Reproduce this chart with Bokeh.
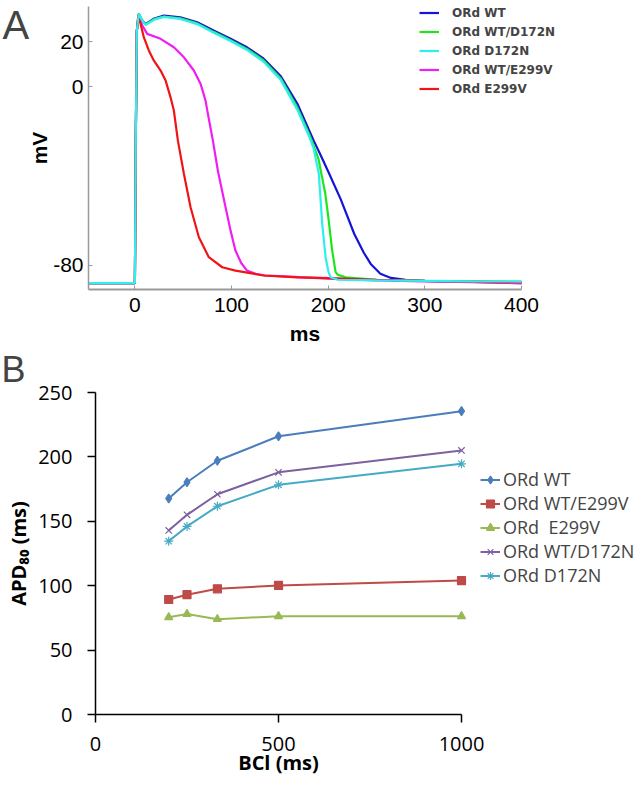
from bokeh.plotting import figure
from bokeh.models import Legend, LegendItem, Label, FixedTicker
from bokeh.layouts import column
from bokeh.embed import file_html
from bokeh.resources import INLINE

# ---------------- Panel A: action potentials (ms, mV) ----------------
wt_t = [-48, 0, 1, 2, 4, 7, 11, 20, 30, 47, 64.5, 82, 99, 116, 133, 151, 168, 185, 192, 200, 213, 227, 237, 244, 254, 265, 280, 300, 350, 400]
wt_v = [-88, -88, -20, 25, 32.6, 30, 28, 30.5, 31.8, 31, 28.8, 25, 21.4, 17.6, 12.6, 4.6, -7.6, -24.2, -30.5, -38, -50.5, -66, -74.5, -79.4, -83.8, -85.7, -86.5, -87, -87.5, -88]

wtd_t = [-48, 0, 1, 2, 4, 7, 11, 20, 30, 47, 64.5, 82, 99, 116, 133, 151, 168, 180, 185, 190, 197, 200, 204, 207.6, 210, 218, 250, 300, 350, 400]
wtd_v = [-88, -88, -20, 25, 32.6, 30, 27.8, 30.2, 31.4, 30.6, 28.3, 24.4, 20.8, 16.9, 11.8, 3.6, -9.3, -21, -26.5, -32.5, -48, -58, -73, -83, -84.3, -85.4, -86.5, -87, -87.2, -87.3]

d_t = [-48, 0, 1, 2, 4, 7, 11, 20, 30, 47, 64.5, 82, 99, 116, 133, 151, 168, 180, 185, 190.3, 193.8, 197.3, 200, 202.4, 210, 250, 300, 350, 400]
d_v = [-88, -88, -20, 25, 32.6, 30, 27.6, 30, 31.2, 30.3, 28, 24, 20.4, 16.4, 11.2, 2.9, -10.3, -22, -27.8, -39, -61.5, -76.4, -82.5, -85.4, -86.5, -86.8, -87, -87.2, -87.3]

wte_t = [-48, 0, 1, 2, 4, 7.7, 12.8, 26.6, 40.3, 50.7, 61, 68, 73.1, 74.9, 80.7, 86, 93.8, 99, 104, 110, 116, 125, 135, 155, 200, 250, 300, 350, 400]
wte_v = [-88, -88, -20, 25, 32, 27.3, 23.6, 21.4, 17.6, 13.1, 7.2, 1.2, -6.3, -10.7, -24.2, -38, -54, -64.5, -73.4, -79, -82.4, -83.8, -84.6, -85, -86, -86.8, -87.2, -87.6, -88]

e_t = [-48, 0, 1, 2, 3.5, 5.9, 9.3, 14.5, 19.7, 26.6, 31.8, 36.9, 40.3, 44.5, 50.7, 57.6, 66.2, 76.5, 90.4, 104, 133, 168, 202, 250, 300, 350, 400]
e_v = [-88, -88, -20, 25, 32, 28, 22, 16.1, 11.6, 7.2, 2.7, -4.8, -10.7, -24.2, -39, -54, -67.5, -76.4, -80.9, -82.4, -84.6, -85.4, -85.8, -86.5, -87, -87.3, -87.6]

a_x_ticks = [0, 100, 200, 300, 400]
a_y_ticks = [20, 0, -80]
a_x_bounds = (-48, 400)
a_y_bounds = (-91, 36)

# ---------------- Panel B: APD80 vs BCl ----------------
bcl = [200, 250, 333, 500, 1000]
apd_wt = [167.7, 180.3, 197, 216, 235.5]
apd_wte = [89.3, 93, 97.6, 100.2, 104]
apd_e = [75.5, 78, 74, 76.3, 76.3]
apd_wtd = [142.9, 155, 171, 188, 205]
apd_d = [134.6, 146, 161.7, 178.3, 194.6]
b_x_ticks = [0, 500, 1000]
b_y_ticks = [0, 50, 100, 150, 200, 250]
b_x_bounds = (0, 1000)
b_y_bounds = (0, 250)

# ---------------- layout geometry (page pixels) ----------------
W = 638
HA = 348
HB = 437
sxA = 433 / (a_x_bounds[1] - a_x_bounds[0])
syA = 2.233
xrA = (a_x_bounds[0] - 88 / sxA, a_x_bounds[0] + (W - 88) / sxA)
yrA = (a_y_bounds[0] - (HA - 289.3) / syA, a_y_bounds[0] + 289.3 / syA)
sxB = 366 / (b_x_bounds[1] - b_x_bounds[0])
syB = 322 / (b_y_bounds[1] - b_y_bounds[0])
xrB = (b_x_bounds[0] - 95 / sxB, b_x_bounds[0] + (W - 95) / sxB)
yrB = (b_y_bounds[0] - (HA + HB - 714) / syB, b_y_bounds[1] + (392 - HA) / syB)

# ================= Figure A =================
pA = figure(width=W, height=HA, x_range=xrA, y_range=yrA,
            output_backend="svg", toolbar_location=None,
            min_border_left=0, min_border_right=0, min_border_top=0, min_border_bottom=0)
pA.outline_line_color = None
pA.grid.visible = False

ra_wt = pA.line(wt_t, wt_v, line_color="#1414dc", line_width=2.2)
ra_wtd = pA.line(wtd_t, wtd_v, line_color="#1ee61e", line_width=2.2)
ra_wte = pA.line(wte_t, wte_v, line_color="#f01ef0", line_width=2.2)
ra_e = pA.line(e_t, e_v, line_color="#f01414", line_width=2.2)
ra_d = pA.line(d_t, d_v, line_color="#2eeeee", line_width=2.2)

for ax in (pA.xaxis[0], pA.yaxis[0]):
    ax.axis_line_color = "#999999"
    ax.major_tick_line_color = "#999999"
    ax.major_tick_in = 4
    ax.major_tick_out = 0
    ax.minor_tick_line_color = None
    ax.major_label_text_font = "Liberation Sans"
    ax.major_label_text_font_size = "21px"
    ax.major_label_text_color = "black"
    ax.axis_label_text_font = "Liberation Sans"
    ax.axis_label_text_font_style = "bold"
    ax.axis_label_text_font_size = "21px"
    ax.axis_label_text_color = "black"
pA.xaxis[0].axis_line_width = 2
pA.yaxis[0].axis_line_width = 1.5
pA.xaxis[0].ticker = FixedTicker(ticks=a_x_ticks)
pA.yaxis[0].ticker = FixedTicker(ticks=a_y_ticks)
pA.yaxis[0].major_label_overrides = {t: str(t) for t in a_y_ticks}
pA.xaxis[0].bounds = a_x_bounds
pA.yaxis[0].bounds = a_y_bounds
pA.xaxis[0].fixed_location = a_y_bounds[0]
pA.yaxis[0].fixed_location = a_x_bounds[0]
pA.xaxis[0].axis_label = "ms"
pA.yaxis[0].axis_label = "mV"
pA.xaxis[0].major_label_standoff = 8
pA.yaxis[0].major_label_standoff = 5
pA.xaxis[0].axis_label_standoff = 7
pA.yaxis[0].axis_label_standoff = -1

legA = Legend(items=[
    LegendItem(label="ORd WT", renderers=[ra_wt]),
    LegendItem(label="ORd WT/D172N", renderers=[ra_wtd]),
    LegendItem(label="ORd D172N", renderers=[ra_d]),
    LegendItem(label="ORd WT/E299V", renderers=[ra_wte]),
    LegendItem(label="ORd E299V", renderers=[ra_e]),
], location=(419, HA - 98))
legA.padding = 0
legA.margin = 0
legA.spacing = 0
legA.glyph_width = 20
legA.glyph_height = 19
legA.label_height = 19
legA.label_standoff = 13
legA.label_text_font = "DejaVu Sans"
legA.label_text_font_style = "bold"
legA.label_text_font_size = "12px"
legA.background_fill_alpha = 0
legA.border_line_alpha = 0
pA.add_layout(legA, "center")

pA.add_layout(Label(x=2, y=HA - 38 + 14, x_units="screen", y_units="screen", text="A",
                    text_font="Liberation Sans", text_font_size="40px",
                    text_baseline="alphabetic"))

# ================= Figure B =================
pB = figure(width=W, height=HB, x_range=xrB, y_range=yrB,
            output_backend="svg", toolbar_location=None,
            min_border_left=0, min_border_right=0, min_border_top=0, min_border_bottom=0)
pB.outline_line_color = None
pB.grid.visible = False

series = [
    ("ORd WT", apd_wt, "#4a7ebb", "diamond", 9),
    ("ORd WT/E299V", apd_wte, "#be4b48", "square", 8),
    ("ORd  E299V", apd_e, "#98b954", "triangle", 8),
    ("ORd WT/D172N", apd_wtd, "#7d60a0", "x", 9),
    ("ORd D172N", apd_d, "#46aac5", "asterisk", 9),
]
itemsB = []
for name, ys, col, mk, sz in series:
    ln = pB.line(bcl, ys, line_color=col, line_width=2)
    sc = pB.scatter(bcl, ys, marker=mk, size=sz, fill_color=col, line_color=col, line_width=1.2)
    itemsB.append(LegendItem(label=name, renderers=[ln, sc]))

for ax in (pB.xaxis[0], pB.yaxis[0]):
    ax.axis_line_color = "black"
    ax.axis_line_width = 1.5
    ax.major_tick_line_color = "black"
    ax.major_tick_line_width = 1.5
    ax.major_tick_in = 0
    ax.major_tick_out = 8
    ax.minor_tick_line_color = None
    ax.major_label_text_font = "Open Sans"
    ax.major_label_text_font_size = "20px"
    ax.major_label_text_color = "black"
    ax.axis_label_text_font = "Open Sans"
    ax.axis_label_text_font_style = "bold"
    ax.axis_label_text_font_size = "20px"
    ax.axis_label_text_color = "black"
pB.xaxis[0].ticker = FixedTicker(ticks=b_x_ticks)
pB.yaxis[0].ticker = FixedTicker(ticks=b_y_ticks)
pB.xaxis[0].bounds = b_x_bounds
pB.yaxis[0].bounds = b_y_bounds
pB.xaxis[0].fixed_location = b_y_bounds[0]
pB.yaxis[0].fixed_location = b_x_bounds[0]
pB.xaxis[0].axis_label = "BCl (ms)"
pB.yaxis[0].axis_label = "APD\u2088\u2080 (ms)"
pB.xaxis[0].major_label_standoff = 14
pB.yaxis[0].major_label_standoff = 15
pB.xaxis[0].axis_label_standoff = -5
pB.yaxis[0].axis_label_standoff = 3

legB = Legend(items=itemsB, location=(480, HB - 239))
legB.padding = 0
legB.margin = 0
legB.spacing = 0
legB.glyph_width = 20
legB.glyph_height = 23
legB.label_height = 23
legB.label_standoff = 3
legB.label_text_font = "Open Sans"
legB.label_text_font_size = "18px"
legB.background_fill_alpha = 0
legB.border_line_alpha = 0
pB.add_layout(legB, "center")

pB.add_layout(Label(x=1, y=HB - 35 + 14, x_units="screen", y_units="screen", text="B",
                    text_font="Liberation Sans", text_font_size="36px",
                    text_baseline="alphabetic"))

layout = column(pA, pB, spacing=0)
open("out.html", "w").write(file_html(layout, INLINE))
